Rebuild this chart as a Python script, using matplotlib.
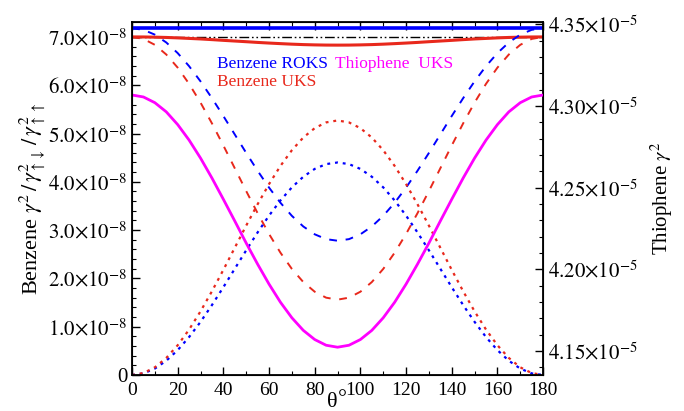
import matplotlib
matplotlib.use("Agg")
import matplotlib.pyplot as plt
from matplotlib.ticker import MultipleLocator, FuncFormatter
import numpy as np

plt.rcParams['font.family'] = ['Liberation Serif', 'DejaVu Serif']
plt.rcParams['mathtext.fontset'] = 'stix'

theta = list(range(0, 181, 5))

# benzene values (units of 1e-8)
roks_total = [7.18] * 37
roks_dashed = [7.18, 7.147, 7.047, 6.885, 6.665, 6.394, 6.08, 5.732, 5.362, 4.98,
               4.598, 4.228, 3.88, 3.566, 3.295, 3.075, 2.913, 2.813, 2.78,
               2.813, 2.913, 3.075, 3.295, 3.566, 3.88, 4.228, 4.598, 4.98,
               5.362, 5.732, 6.08, 6.394, 6.665, 6.885, 7.047, 7.147, 7.18]
roks_dotted = [0, 0.033, 0.133, 0.295, 0.515, 0.786, 1.10, 1.448, 1.818, 2.20,
               2.582, 2.952, 3.30, 3.614, 3.885, 4.105, 4.267, 4.367, 4.40,
               4.367, 4.267, 4.105, 3.885, 3.614, 3.30, 2.952, 2.582, 2.20,
               1.818, 1.448, 1.10, 0.786, 0.515, 0.295, 0.133, 0.033, 0]
uks_total = [7.0, 6.999, 6.995, 6.989, 6.980, 6.969, 6.958, 6.944, 6.929, 6.915,
             6.901, 6.886, 6.873, 6.861, 6.850, 6.841, 6.835, 6.831, 6.83,
             6.831, 6.835, 6.841, 6.850, 6.861, 6.873, 6.886, 6.901, 6.915,
             6.929, 6.944, 6.958, 6.969, 6.980, 6.989, 6.995, 6.999, 7.0]
uks_dashed = [7.0, 6.959, 6.836, 6.636, 6.364, 6.028, 5.64, 5.210, 4.752, 4.28,
              3.808, 3.350, 2.92, 2.532, 2.196, 1.924, 1.724, 1.601, 1.56,
              1.601, 1.724, 1.924, 2.196, 2.532, 2.92, 3.350, 3.808, 4.28,
              4.752, 5.210, 5.64, 6.028, 6.364, 6.636, 6.836, 6.959, 7.0]
uks_dotted = [0, 0.040, 0.159, 0.353, 0.616, 0.941, 1.318, 1.734, 2.177, 2.635,
              3.093, 3.536, 3.953, 4.329, 4.654, 4.917, 5.111, 5.230, 5.27,
              5.230, 5.111, 4.917, 4.654, 4.329, 3.953, 3.536, 3.093, 2.635,
              2.177, 1.734, 1.318, 0.941, 0.616, 0.353, 0.159, 0.040, 0]
ref_level = [7.0] * 37

# thiophene (units of 1e-5)
thio = [4.3067, 4.3055, 4.3020, 4.2964, 4.2886, 4.2791, 4.2681, 4.2559, 4.2429, 4.2296,
        4.2161, 4.2032, 4.1910, 4.1799, 4.1704, 4.1627, 4.1571, 4.1536, 4.1524,
        4.1536, 4.1571, 4.1627, 4.1704, 4.1799, 4.1910, 4.2032, 4.2161, 4.2296,
        4.2429, 4.2559, 4.2681, 4.2791, 4.2886, 4.2964, 4.3020, 4.3055, 4.3067]

blue = '#0000ff'
red = '#e8281c'
mag = '#ff00ff'

fig = plt.figure(figsize=(6.84, 4.11), dpi=100)
ax = fig.add_axes([0.193, 0.0876, 0.601, 0.859])
ax2 = ax.twinx()

e8 = 1e-8
ax.plot(theta, np.array(roks_total) * e8, color=blue, lw=2.6)
ax.plot(theta, np.array(ref_level) * e8, color='black', lw=1.0, dashes=[7, 2, 1.2, 2, 1.2, 2])
ax.plot(theta, np.array(uks_total) * e8, color=red, lw=2.2)
ax.plot(theta, np.array(roks_dashed) * e8, color=blue, lw=1.4, dashes=[4, 4.5])
ax.plot(theta, np.array(uks_dashed) * e8, color=red, lw=1.4, dashes=[4, 4.5])
ax.plot(theta, np.array(roks_dotted) * e8, color=blue, lw=1.6, dashes=[1.3, 2.2])
ax.plot(theta, np.array(uks_dotted) * e8, color=red, lw=1.6, dashes=[1.3, 2.2])
ax2.plot(theta, np.array(thio) * 1e-5, color=mag, lw=2.0)

ax.set_xlim(0, 180)
ax.set_ylim(0, 7.31e-8)
ax2.set_ylim(4.1354e-5, 4.3514e-5)

ax.xaxis.set_major_locator(MultipleLocator(20))
ax.xaxis.set_minor_locator(MultipleLocator(10))
ax.yaxis.set_major_locator(MultipleLocator(1e-8))
ax.yaxis.set_minor_locator(MultipleLocator(0.2e-8))
ax2.yaxis.set_major_locator(MultipleLocator(0.05e-5))
ax2.yaxis.set_minor_locator(MultipleLocator(0.01e-5))


def left_fmt(v, pos):
    if abs(v) < 1e-12:
        return '0'
    return r'$%.1f{\times}10^{-8}$' % (v / 1e-8)


def right_fmt(v, pos):
    return r'$%.2f{\times}10^{-5}$' % (v / 1e-5)


ax.yaxis.set_major_formatter(FuncFormatter(left_fmt))
ax2.yaxis.set_major_formatter(FuncFormatter(right_fmt))

ax.tick_params(axis='both', which='both', direction='in', labelsize=15)
ax.tick_params(axis='x', which='both', top=True, labelsize=14, pad=5)
ax.tick_params(axis='y', which='both', right=False)
ax.tick_params(which='major', length=6, width=1)
ax.tick_params(which='minor', length=3, width=0.8)
ax2.tick_params(axis='y', which='both', direction='in', labelsize=15)
ax2.tick_params(which='major', length=6, width=1)
ax2.tick_params(which='minor', length=3, width=0.8)
for sp in ax.spines.values():
    sp.set_linewidth(1.3)

ax.set_ylabel(r'Benzene $\gamma^2\,/\,\gamma^2_{\uparrow\downarrow}\,/\,\gamma^2_{\uparrow\uparrow}$',
              fontsize=16, labelpad=0)
ax2.set_ylabel(r'Thiophene $\gamma^2$', fontsize=15, labelpad=8)

# x label: theta with a raised degree sign, sitting between the 80 and 100 labels
ax.text(0.487, -0.078, 'θ', transform=ax.transAxes, fontsize=16, ha='center', va='center')
ax.text(0.512, -0.082, '°', transform=ax.transAxes, fontsize=16, ha='center', va='baseline')

ax.text(0.207, 0.88, 'Benzene ROKS', color=blue, transform=ax.transAxes, fontsize=12.5, va='center')
ax.text(0.207, 0.83, 'Benzene UKS', color=red, transform=ax.transAxes, fontsize=12.5, va='center')
ax.text(0.493, 0.88, 'Thiophene  UKS', color=mag, transform=ax.transAxes, fontsize=12.5, va='center')

fig.savefig('out.png', dpi=100)
